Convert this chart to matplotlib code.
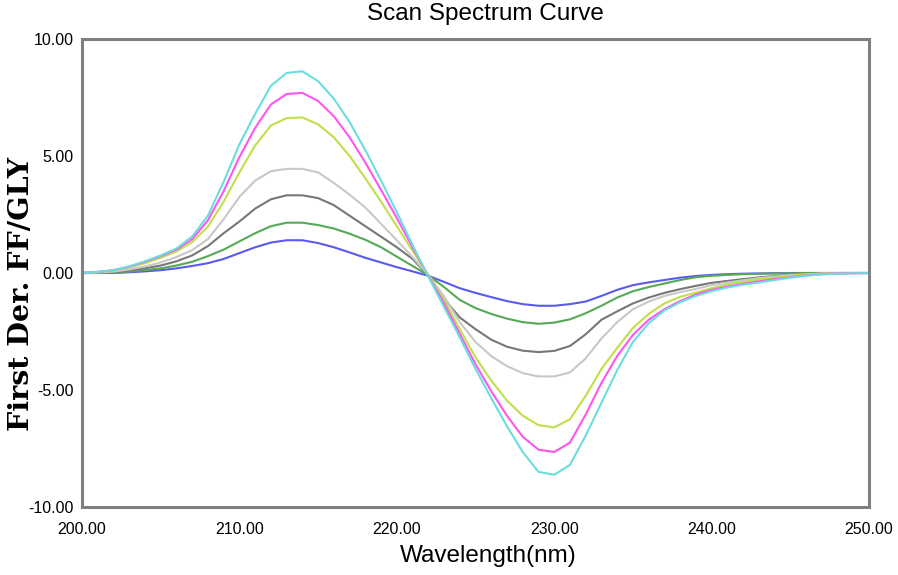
import matplotlib
matplotlib.use("Agg")
import matplotlib.pyplot as plt
import numpy as np

wavelength = list(range(200, 251))

cyan = [0.0, 0.05, 0.12, 0.28, 0.50, 0.75, 1.05, 1.56, 2.45, 3.9, 5.5, 6.8, 8.0, 8.55, 8.62, 8.2, 7.45, 6.45, 5.25, 3.95,
        2.6, 1.2, -0.15, -1.45, -2.75, -4.1, -5.35, -6.55, -7.65, -8.5, -8.62, -8.2, -6.95, -5.55, -4.15, -2.95, -2.15,
        -1.6, -1.25, -0.98, -0.78, -0.62, -0.5, -0.41, -0.3, -0.2, -0.12, -0.06, -0.03, -0.01, 0.0]
magenta = [0.0, 0.05, 0.12, 0.27, 0.48, 0.72, 1.0, 1.45, 2.25, 3.5, 4.95, 6.2, 7.2, 7.65, 7.7, 7.35, 6.7, 5.8, 4.72, 3.55,
           2.35, 1.1, -0.12, -1.3, -2.6, -3.9, -5.05, -6.1, -7.0, -7.55, -7.65, -7.25, -6.05, -4.7, -3.55, -2.65, -2.0,
           -1.55, -1.2, -0.92, -0.72, -0.58, -0.46, -0.36, -0.26, -0.18, -0.1, -0.05, -0.02, -0.01, 0.0]
yellowgreen = [0.0, 0.04, 0.1, 0.24, 0.42, 0.65, 0.92, 1.32, 1.98, 3.05, 4.3, 5.45, 6.3, 6.62, 6.65, 6.35, 5.8, 5.0, 4.05,
               3.05, 2.0, 0.95, -0.1, -1.15, -2.4, -3.6, -4.6, -5.45, -6.1, -6.5, -6.6, -6.25, -5.25, -4.1, -3.2, -2.35,
               -1.75, -1.3, -1.02, -0.84, -0.65, -0.49, -0.38, -0.28, -0.2, -0.13, -0.07, -0.03, -0.01, 0.0, 0.0]
lightgray = [0.0, 0.02, 0.06, 0.15, 0.28, 0.45, 0.68, 0.98, 1.45, 2.3, 3.25, 3.95, 4.35, 4.45, 4.45, 4.3, 3.85, 3.35, 2.8,
             2.1, 1.4, 0.68, -0.08, -1.0, -2.1, -2.95, -3.55, -3.98, -4.28, -4.42, -4.42, -4.25, -3.65, -2.8, -2.1, -1.55,
             -1.22, -0.98, -0.82, -0.68, -0.52, -0.41, -0.31, -0.22, -0.15, -0.09, -0.05, -0.02, -0.01, 0.0, 0.0]
darkgray = [0.0, 0.01, 0.04, 0.1, 0.2, 0.32, 0.5, 0.75, 1.15, 1.7, 2.2, 2.75, 3.15, 3.32, 3.32, 3.2, 2.9, 2.45, 2.0, 1.55,
            1.1, 0.6, -0.1, -1.1, -1.9, -2.4, -2.85, -3.15, -3.32, -3.38, -3.33, -3.12, -2.62, -2.0, -1.64, -1.3, -1.05,
            -0.85, -0.69, -0.55, -0.42, -0.34, -0.26, -0.19, -0.13, -0.08, -0.04, -0.02, 0.0, 0.0, 0.0]
green = [0.0, 0.0, 0.02, 0.06, 0.12, 0.2, 0.32, 0.48, 0.72, 1.0, 1.35, 1.7, 2.0, 2.15, 2.15, 2.05, 1.9, 1.68, 1.42, 1.1,
         0.7, 0.3, -0.1, -0.6, -1.15, -1.5, -1.75, -1.95, -2.1, -2.17, -2.12, -1.98, -1.72, -1.4, -1.05, -0.78, -0.6,
         -0.45, -0.3, -0.18, -0.12, -0.08, -0.05, -0.03, -0.02, -0.01, 0.0, 0.0, 0.0, 0.0, 0.0]
blue = [0.0, 0.0, 0.0, 0.03, 0.07, 0.12, 0.2, 0.3, 0.42, 0.6, 0.85, 1.1, 1.3, 1.4, 1.4, 1.28, 1.1, 0.88, 0.65, 0.45,
        0.25, 0.07, -0.12, -0.38, -0.65, -0.85, -1.03, -1.2, -1.33, -1.4, -1.4, -1.33, -1.22, -0.98, -0.72, -0.52, -0.4,
        -0.3, -0.2, -0.13, -0.08, -0.05, -0.03, -0.02, -0.01, 0.0, 0.0, 0.0, 0.0, 0.0, 0.0]

series = [
    (blue, "#5a5af0"),
    (green, "#55aa55"),
    (darkgray, "#777777"),
    (lightgray, "#c8c8c8"),
    (yellowgreen, "#bfe04a"),
    (magenta, "#ff55ee"),
    (cyan, "#6adede"),
]

xticks = [200, 210, 220, 230, 240, 250]
yticks = [-10, -5, 0, 5, 10]

fig = plt.figure(figsize=(8.98, 5.75), dpi=100)
ax = fig.add_axes([82/898, 1-507/575, (869-82)/898, (507-39)/575])

for vals, col in series:
    ax.plot(wavelength, vals, color=col, lw=1.5)

ax.set_xlim(200, 250)
ax.set_ylim(-10, 10)
ax.set_xticks(xticks)
ax.set_yticks(yticks)
ax.set_xticklabels([f"{v:.2f}" for v in xticks], fontsize=11.5, family="Liberation Sans")
ax.set_yticklabels([f"{v:.2f}" for v in yticks], fontsize=11.5, family="Liberation Sans")
ax.tick_params(length=0, pad=6)
ax.tick_params(axis="x", pad=11)
for s in ax.spines.values():
    s.set_color("#808080")
    s.set_linewidth(2.2)

fig.text(485/898, 1-14/575, "Scan Spectrum Curve", ha="center", va="center",
         fontsize=17.5, family="Liberation Sans")
fig.text(488/898, 1-556/575, "Wavelength(nm)", ha="center", va="center",
         fontsize=17.5, family="Liberation Sans")
fig.text(22/898, 1-294/575, "First Der. FF/GLY", ha="center", va="center", rotation=90,
         fontsize=20.5, family="DejaVu Serif", fontweight="bold")

fig.savefig("out.png", dpi=100)
